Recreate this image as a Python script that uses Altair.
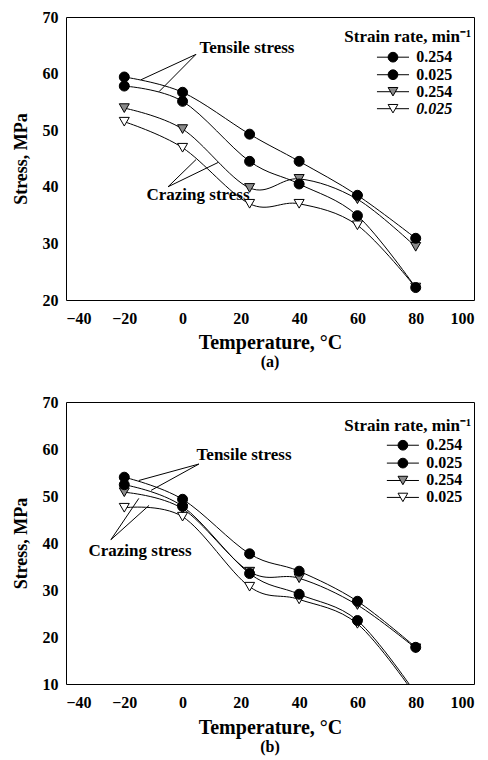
import altair as alt
import pandas as pd

FONT = "Liberation Serif"

temps = [-20, 0, 23, 40, 60, 80]

# Panel (a)
a_tensile_254 = [59.4, 56.7, 49.3, 44.5, 38.5, 30.9]
a_tensile_025 = [57.8, 55.1, 44.5, 40.5, 34.9, 22.2]
a_crazing_254 = [53.9, 50.2, 39.8, 41.4, 37.8, 29.4]
a_crazing_025 = [51.5, 46.9, 37.0, 37.0, 33.2, 22.2]

# Panel (b)
b_tensile_254 = [54.0, 49.3, 37.7, 34.0, 27.6, 17.8]
b_tensile_025 = [52.4, 47.8, 33.5, 29.1, 23.5, 8.0]
b_crazing_254 = [50.8, 47.3, 33.9, 32.5, 26.8, 17.6]
b_crazing_025 = [47.5, 45.6, 30.7, 28.0, 22.8, 7.5]

series_order = ["c025", "c254", "t025", "t254"]
legend_series = ["t254", "t025", "c254", "c025"]
legend_labels = ["0.254", "0.025", "0.254", "0.025"]
shape_range = ["triangle-down", "triangle-down", "circle", "circle"]
fill_range = ["white", "#8a8a8a", "black", "black"]

x_ticks = [-40, -20, 0, 20, 40, 60, 80, 100]

shape_scale = alt.Scale(domain=series_order, range=shape_range)
fill_scale = alt.Scale(domain=series_order, range=fill_range)


def make_panel(vals, ylo, leg_y, leg_title_y, leg_x, ann_text, ann_lines, subtitle, italic_last,
               height, x_title_pad, sub_offset):
    rows = []
    for s, v in zip(series_order, vals):
        for t, y in zip(temps, v):
            rows.append({"temp": t, "stress": y, "series": s})
    df = pd.DataFrame(rows)

    xs = alt.Scale(domain=[-40, 100], nice=False)
    ys = alt.Scale(domain=[ylo, 70], nice=False)
    xax = alt.Axis(values=x_ticks, title="Temperature, °C", titleFontSize=20,
                   titlePadding=x_title_pad, labelPadding=10)
    yax = alt.Axis(values=list(range(ylo, 71, 10)), title="Stress, MPa", titleFontSize=18,
                   titlePadding=12, labelPadding=8)

    base = alt.Chart(df)
    lines = base.mark_line(interpolate="cardinal", color="black", strokeWidth=1, clip=True).encode(
        x=alt.X("temp:Q", scale=xs, axis=xax),
        y=alt.Y("stress:Q", scale=ys, axis=yax),
        detail="series:N",
    )
    pts = base.mark_point(size=100, filled=True, stroke="black", strokeWidth=1, opacity=1, clip=True).encode(
        x="temp:Q",
        y="stress:Q",
        shape=alt.Shape("series:N", scale=shape_scale, legend=None),
        fill=alt.Fill("series:N", scale=fill_scale, legend=None),
    )

    # legend
    leg = pd.DataFrame({
        "series": legend_series,
        "label": legend_labels,
        "y": leg_y,
        "x": [leg_x] * 4,
        "x1": [leg_x - 5.5] * 4,
        "x2": [leg_x + 5.5] * 4,
        "tx": [leg_x + 8.0] * 4,
        "italic": [False, False, False, italic_last],
    })
    lb = alt.Chart(leg)
    leg_rules = lb.mark_rule(color="black", strokeWidth=1).encode(x="x1:Q", x2="x2:Q", y="y:Q")
    leg_pts = lb.mark_point(size=95, filled=True, stroke="black", strokeWidth=1, opacity=1).encode(
        x="x:Q", y="y:Q",
        shape=alt.Shape("series:N", scale=shape_scale, legend=None),
        fill=alt.Fill("series:N", scale=fill_scale, legend=None),
    )
    leg_txt = lb.mark_text(align="left", baseline="middle", font=FONT, fontWeight="bold",
                           fontSize=16).encode(x="tx:Q", y="y:Q", text="label:N").transform_filter(
        "!datum.italic")
    leg_txt_i = lb.mark_text(align="left", baseline="middle", font=FONT, fontWeight="bold",
                             fontStyle="italic", fontSize=16).encode(
        x="tx:Q", y="y:Q", text="label:N").transform_filter("datum.italic")
    title_df = pd.DataFrame({"x": [99.0], "y": [leg_title_y], "t": ["Strain rate, min⁻¹"]})
    leg_title = alt.Chart(title_df).mark_text(align="right", baseline="middle", font=FONT,
                                              fontWeight="bold", fontSize=17).encode(
        x="x:Q", y="y:Q", text="t:N")

    # annotations
    ann_df = pd.DataFrame(ann_text, columns=["x", "y", "t"])
    ann = alt.Chart(ann_df).mark_text(font=FONT, fontWeight="bold", fontSize=17,
                                      baseline="middle").encode(x="x:Q", y="y:Q", text="t:N")
    al_df = pd.DataFrame(ann_lines, columns=["x", "y", "x2", "y2"])
    al = alt.Chart(al_df).mark_rule(color="black", strokeWidth=1).encode(
        x="x:Q", y="y:Q", x2="x2:Q", y2="y2:Q")

    return alt.layer(lines, al, ann, pts, leg_rules, leg_pts, leg_txt, leg_txt_i, leg_title).properties(
        width=408, height=height,
        title=alt.TitleParams(subtitle, orient="bottom", font=FONT, fontSize=16, fontWeight="bold",
                              offset=sub_offset),
    )


top = make_panel(
    [a_crazing_025, a_crazing_254, a_tensile_025, a_tensile_254], 20,
    [62.9, 59.8, 56.8, 53.8], 66.4, 72.2,
    [(22.1, 64.6, "Tensile stress"), (5.3, 38.6, "Crazing stress")],
    [(4.6, 63.4, -14.3, 58.9), (4.6, 63.4, -8.1, 56.8),
     (-5.0, 40.0, 4.6, 44.8), (-5.0, 40.0, 12.2, 44.3)],
    "(a)", True, 283, 6, 2,
)

bottom = make_panel(
    [b_crazing_025, b_crazing_254, b_tensile_025, b_tensile_254], 10,
    [60.8, 57.0, 53.3, 49.7], 65.0, 75.6,
    [(21.1, 58.7, "Tensile stress"), (-14.6, 38.4, "Crazing stress")],
    [(5.6, 56.8, -15.0, 53.3), (5.6, 56.8, -10.8, 51.2),
     (-24.6, 40.7, -15.0, 49.5), (-24.6, 40.7, -11.5, 48.0)],
    "(b)", False, 282, 7, 2,
)

chart = alt.vconcat(top, bottom, spacing=22).properties(
    padding={"left": 3, "top": 0, "right": 0, "bottom": 0},
).configure_view(stroke="black", strokeWidth=1).configure_axis(
    grid=False, ticks=False, domain=False, labelFont=FONT, titleFont=FONT,
    labelFontWeight="bold", titleFontWeight="bold", labelFontSize=16, labelColor="black",
    titleColor="black",
)

chart.save("out.html", embed_options={"renderer": "svg", "actions": False})
